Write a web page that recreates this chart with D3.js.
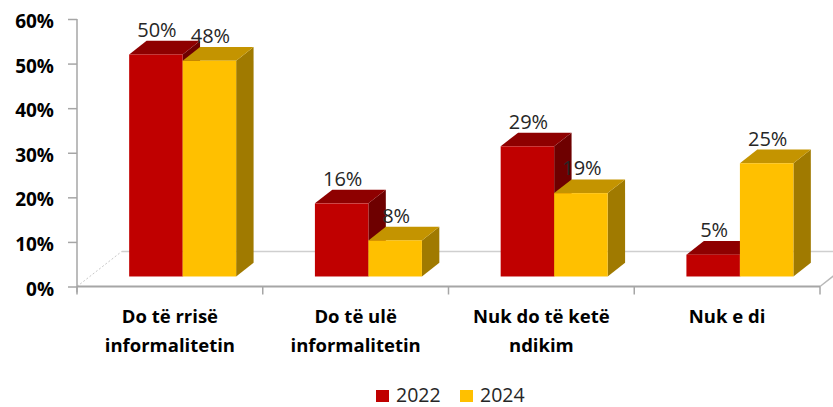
<!DOCTYPE html>
<html>
<head>
<meta charset="utf-8">
<script src="https://cdn.jsdelivr.net/npm/d3@7"></script>
<style>
  html, body { margin: 0; padding: 0; background: #fff; }
  svg { display: block; font-family: 'Open Sans', sans-serif; }
</style>
</head>
<body>
<svg id="chart"></svg>
<script>
const WIDTH = 833;
const HEIGHT = 407;

const categories = [
  ['Do të rrisë', 'informalitetin'],
  ['Do të ulë', 'informalitetin'],
  ['Nuk do të ketë', 'ndikim'],
  ['Nuk e di'],
];
const seriesNames = ['2022', '2024'];
const values2022 = [0.498, 0.164, 0.292, 0.049];
const values2024 = [0.484, 0.081, 0.187, 0.254];
const yTicks = [0, 0.1, 0.2, 0.3, 0.4, 0.5, 0.6];

const colors = {
  '2022': { front: '#c00000', top: '#8e0000', side: '#6e0000' },
  '2024': { front: '#ffc000', top: '#c49400', side: '#a07a00' },
};

// 3d floor geometry
const X0 = 77, X1 = 820;
const FLOOR_DX = 44.7, FLOOR_DY = -35;
const BAR_FRONT = 0.286, BAR_DEPTH = 0.39;

const svg = d3.select('#chart')
  .attr('width', WIDTH)
  .attr('height', HEIGHT);

const catKeys = categories.map(c => c.join(' '));
const xScale = d3.scaleBand()
  .domain(catKeys)
  .range([X0, X1])
  .paddingInner(0.424)
  .paddingOuter(0.212);
const xSub = d3.scaleBand()
  .domain(seriesNames)
  .range([0, xScale.bandwidth()]);
const yScale = d3.scaleLinear()
  .domain([0, 0.6])
  .range([286.5, 19]);

// floor
const base = yScale(0);
svg.append('line')
  .attr('x1', X0 + FLOOR_DX).attr('y1', base + FLOOR_DY)
  .attr('x2', X1 + FLOOR_DX).attr('y2', base + FLOOR_DY)
  .attr('stroke', '#cfcfcf').attr('stroke-width', 1.5);
svg.append('line')
  .attr('x1', X0).attr('y1', base)
  .attr('x2', X0 + FLOOR_DX).attr('y2', base + FLOOR_DY)
  .attr('stroke', '#c8c8c8').attr('stroke-width', 1)
  .attr('stroke-dasharray', '2,2');
svg.append('line')
  .attr('x1', X1).attr('y1', base)
  .attr('x2', X1 + FLOOR_DX).attr('y2', base + FLOOR_DY)
  .attr('stroke', '#b8b8b8').attr('stroke-width', 1.5);

// bars
const rows = [];
catKeys.forEach((key, i) => {
  rows.push({ key, series: '2022', value: values2022[i] });
  rows.push({ key, series: '2024', value: values2024[i] });
});

const ox = BAR_FRONT * FLOOR_DX, oy = BAR_FRONT * FLOOR_DY;
const dx = BAR_DEPTH * FLOOR_DX, dy = BAR_DEPTH * FLOOR_DY;

const bars = svg.append('g')
  .selectAll('g')
  .data(rows)
  .join('g');

bars.each(function (d) {
  const g = d3.select(this);
  const x = xScale(d.key) + xSub(d.series) + ox;
  const w = xSub.bandwidth();
  const yb = base + oy;
  const yt = yScale(d.value) + oy;
  const c = colors[d.series];
  g.append('path')
    .attr('d', `M${x + w},${yt}L${x + w + dx},${yt + dy}L${x + w + dx},${yb + dy}L${x + w},${yb}Z`)
    .attr('fill', c.side);
  g.append('path')
    .attr('d', `M${x},${yt}L${x + dx},${yt + dy}L${x + w + dx},${yt + dy}L${x + w},${yt}Z`)
    .attr('fill', c.top);
  g.append('rect')
    .attr('x', x).attr('y', yt)
    .attr('width', w).attr('height', yb - yt)
    .attr('fill', c.front);
  g.append('text')
    .attr('x', x + w / 2 + 1)
    .attr('y', yt + dy - 4)
    .attr('text-anchor', 'middle')
    .attr('font-size', 20)
    .attr('fill', '#262626')
    .text(`${Math.round(d.value * 100)}%`);
});

// y axis
const leftAxis = d3.axisLeft(yScale)
  .tickValues(yTicks)
  .tickFormat(d3.format('.0%'))
  .tickSize(9)
  .tickSizeOuter(0)
  .tickPadding(14);
const yAxis = svg.append('g')
  .attr('transform', `translate(${X0},0)`)
  .call(leftAxis);
yAxis.select('.domain').attr('stroke', '#a6a6a6').attr('stroke-width', 1.5)
  .attr('d', `M0,${yScale(0.6)}V${base + 6}`);
yAxis.selectAll('.tick line').attr('stroke', '#a6a6a6').attr('stroke-width', 1.5);
yAxis.selectAll('.tick text')
  .attr('font-size', 19)
  .attr('font-weight', 'bold')
  .attr('font-family', "'Open Sans', sans-serif")
  .attr('fill', '#000')
  .attr('dy', '0.45em');

// x axis (front floor edge)
const bounds = d3.range(catKeys.length + 1).map(i => X0 + i * xScale.step());
svg.append('line')
  .attr('x1', X0).attr('y1', base)
  .attr('x2', X1).attr('y2', base)
  .attr('stroke', '#a6a6a6').attr('stroke-width', 2);
svg.append('g')
  .selectAll('line')
  .data(bounds)
  .join('line')
  .attr('x1', d => d).attr('x2', d => d)
  .attr('y1', base).attr('y2', base + 8)
  .attr('stroke', '#a6a6a6').attr('stroke-width', 1.5);

svg.append('g')
  .selectAll('text')
  .data(categories)
  .join('text')
  .attr('text-anchor', 'middle')
  .attr('font-size', 18.5)
  .attr('font-weight', 'bold')
  .attr('fill', '#000')
  .each(function (lines, i) {
    const cx = xScale(catKeys[i]) + xScale.bandwidth() / 2;
    d3.select(this).selectAll('tspan')
      .data(lines)
      .join('tspan')
      .attr('x', cx)
      .attr('y', (d, j) => 323 + j * 28.7)
      .text(d => d);
  });

// legend
const legendX = [376, 460];
const legend = svg.append('g')
  .selectAll('g')
  .data(seriesNames)
  .join('g')
  .attr('transform', (d, i) => `translate(${legendX[i]},390)`);
legend.append('rect')
  .attr('width', 13).attr('height', 12)
  .attr('fill', d => colors[d].front);
legend.append('text')
  .attr('x', 20).attr('y', 12)
  .attr('font-size', 19.5)
  .attr('fill', '#262626')
  .text(d => d);
</script>
</body>
</html>
